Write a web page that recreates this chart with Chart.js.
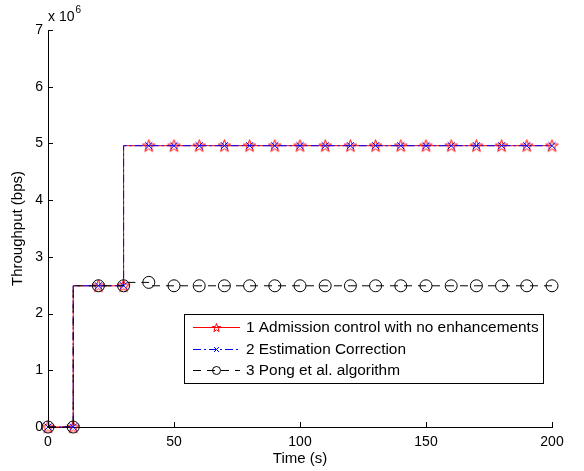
<!DOCTYPE html>
<html lang="en">
<head>
<meta charset="UTF-8" />
<title>Throughput vs time</title>
<script src="https://cdn.jsdelivr.net/npm/chart.js"></script>
<style>
  html, body { margin: 0; padding: 0; background: #fff; }
  #wrap { width: 584px; height: 471px; }
</style>
</head>
<body>
<div id="wrap"><canvas id="tput" width="584" height="471"></canvas></div>
<script>
  // values in units of 10^6 bps
  const timeSec = [0, 10, 20, 30, 40, 50, 60, 70, 80, 90, 100, 110, 120, 130, 140, 150, 160, 170, 180, 190, 200];
  const noEnhancements = [0, 0, 2.49, 2.49, 4.96, 4.96, 4.96, 4.96, 4.96, 4.96, 4.96, 4.96, 4.96, 4.96, 4.96, 4.96, 4.96, 4.96, 4.96, 4.96, 4.96];
  const estimationCorrection = [0, 0, 2.49, 2.49, 4.96, 4.96, 4.96, 4.96, 4.96, 4.96, 4.96, 4.96, 4.96, 4.96, 4.96, 4.96, 4.96, 4.96, 4.96, 4.96, 4.96];
  const pongAlgorithm = [0, 0, 2.49, 2.49, 2.55, 2.49, 2.49, 2.49, 2.49, 2.49, 2.49, 2.49, 2.49, 2.49, 2.49, 2.49, 2.49, 2.49, 2.49, 2.49, 2.49];
  const xTicks = [0, 50, 100, 150, 200];
  const yTicks = [0, 1, 2, 3, 4, 5, 6, 7];
  const seriesNames = [
    "1 Admission control with no enhancements",
    "2 Estimation Correction",
    "3 Pong et al. algorithm"
  ];

  const FONT = "'Liberation Sans', Arial, sans-serif";

  // MATLAB-ish pentagram marker
  function makeStar(size, color) {
    const c = document.createElement("canvas");
    c.width = c.height = size;
    const g = c.getContext("2d");
    const cx = size / 2, cy = size / 2 + 0.5, R = size / 2 - 1, r = R * 0.4;
    g.beginPath();
    for (let i = 0; i < 10; i++) {
      const a = -Math.PI / 2 + i * Math.PI / 5;
      const rad = i % 2 ? r : R;
      g.lineTo(cx + rad * Math.cos(a), cy + rad * Math.sin(a));
    }
    g.closePath();
    g.strokeStyle = color;
    g.lineWidth = 1;
    g.stroke();
    return c;
  }
  const starBig = makeStar(15, "#ff0000");
  const starSmall = makeStar(11, "#ff0000");

  const pts = arr => arr.map((v, i) => ({ x: timeSec[i], y: v }));

  const styles = [
    { color: "#ff0000", dash: [], point: starBig, legendPoint: starSmall, radius: 7 },
    { color: "#0000ff", dash: [8, 3, 2, 3], point: "crossRot", legendPoint: "crossRot", radius: 5 },
    { color: "#000000", dash: [8, 6], point: "circle", legendPoint: "circle", radius: 6 }
  ];

  const datasets = [noEnhancements, estimationCorrection, pongAlgorithm].map((arr, i) => ({
    label: seriesNames[i],
    data: pts(arr),
    stepped: "after",
    clip: false,
    borderColor: styles[i].color,
    borderWidth: 1,
    borderDash: styles[i].dash,
    pointStyle: styles[i].point,
    pointRadius: styles[i].radius,
    pointBorderColor: styles[i].color,
    pointBackgroundColor: "rgba(0,0,0,0)",
    pointBorderWidth: 1,
    fill: false,
    order: 3 - i
  }));

  const matlabBits = {
    id: "matlabBits",
    afterDatasetsDraw(chart) {
      const { ctx, chartArea: a, scales: { x, y } } = chart;
      ctx.save();
      ctx.strokeStyle = "#000";
      ctx.lineWidth = 1;
      ctx.beginPath();
      xTicks.forEach(v => {
        const px = Math.round(x.getPixelForValue(v)) + 0.5;
        ctx.moveTo(px, a.bottom);
        ctx.lineTo(px, a.bottom - 5);
      });
      yTicks.forEach(v => {
        const py = Math.round(y.getPixelForValue(v)) + 0.5;
        ctx.moveTo(a.left, py);
        ctx.lineTo(a.left + 5, py);
      });
      ctx.stroke();

      // exponent label
      ctx.fillStyle = "#000";
      ctx.textBaseline = "alphabetic";
      ctx.textAlign = "left";
      ctx.font = "14px " + FONT;
      ctx.fillText("x 10", a.left, 21);
      const w = ctx.measureText("x 10").width;
      ctx.font = "10px " + FONT;
      ctx.fillText("6", a.left + w + 1, 13);
      ctx.restore();
    },
    afterDraw(chart) {
      const { ctx } = chart;
      const box = { left: 184, top: 314, width: 359, height: 69 };
      const rowY = [327, 349, 370];
      ctx.save();
      ctx.fillStyle = "#fff";
      ctx.fillRect(box.left, box.top, box.width, box.height);
      ctx.strokeStyle = "#000";
      ctx.lineWidth = 1;
      ctx.strokeRect(box.left + 0.5, box.top + 0.5, box.width, box.height);
      styles.forEach((s, i) => {
        const yy = rowY[i] + 0.5;
        ctx.lineWidth = 1;
        ctx.strokeStyle = s.color;
        ctx.setLineDash(s.dash);
        ctx.beginPath();
        ctx.moveTo(193, yy);
        ctx.lineTo(240, yy);
        ctx.stroke();
        ctx.setLineDash([]);
        ctx.strokeStyle = s.color;
        ctx.fillStyle = "rgba(0,0,0,0)";
        Chart.helpers.drawPoint(ctx, {
          pointStyle: s.legendPoint,
          radius: i === 2 ? 4 : 3.5,
          rotation: 0,
          borderWidth: 1
        }, 216.5, yy);
        ctx.fillStyle = "#000";
        ctx.font = "15.4px " + FONT;
        ctx.textBaseline = "middle";
        ctx.textAlign = "left";
        ctx.fillText(seriesNames[i], 246, rowY[i] + 1);
      });
      ctx.restore();
    }
  };

  new Chart(document.getElementById("tput"), {
    type: "line",
    data: { datasets },
    options: {
      responsive: false,
      animation: false,
      layout: { padding: { top: 30, right: 32, left: 0, bottom: 0 } },
      plugins: { legend: { display: false }, tooltip: { enabled: false } },
      scales: {
        x: {
          type: "linear",
          min: 0,
          max: 200,
          afterBuildTicks: s => { s.ticks = xTicks.map(v => ({ value: v })); },
          afterFit: s => { s.height = 44; },
          grid: { drawOnChartArea: false, drawTicks: false },
          border: { color: "#000", width: 1 },
          ticks: { color: "#000", font: { family: FONT, size: 14 }, padding: 7, maxRotation: 0 },
          title: { display: true, text: "Time (s)", color: "#000", font: { family: FONT, size: 15 }, padding: { top: 0, bottom: 3 } }
        },
        y: {
          min: 0,
          max: 7,
          afterBuildTicks: s => { s.ticks = yTicks.map(v => ({ value: v })); },
          afterFit: s => { s.width = 48; },
          grid: { drawOnChartArea: false, drawTicks: false },
          border: { color: "#000", width: 1 },
          ticks: { color: "#000", font: { family: FONT, size: 14 }, padding: 5, callback: v => String(v) },
          title: { display: true, text: "Throughput (bps)", color: "#000", font: { family: FONT, size: 15 }, padding: { top: 9, bottom: 0 } }
        }
      }
    },
    plugins: [matlabBits]
  });
</script>
</body>
</html>
